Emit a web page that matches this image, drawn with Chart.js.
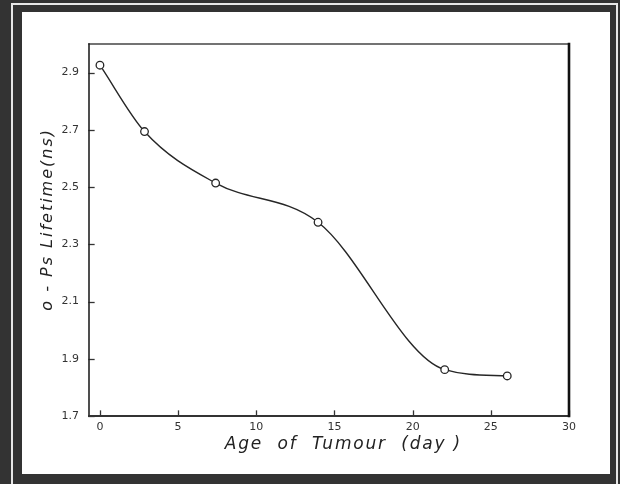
<!DOCTYPE html>
<html>
<head>
<meta charset="utf-8">
<script src="https://cdn.jsdelivr.net/npm/chart.js@4/dist/chart.umd.min.js"></script>
<style>
  html, body { margin: 0; padding: 0; }
  body { width: 620px; height: 484px; position: relative; overflow: hidden; background: #333; }
  #line { position: absolute; left: 11px; top: 3px; width: 607px; height: 500px; border: 2px solid #e8e8e8; box-sizing: border-box; }
  #paper { position: absolute; left: 22px; top: 12px; width: 588px; height: 462px; background: #fff; }
  #c { position: absolute; left: 0; top: 0; }
</style>
</head>
<body>
<div id="line"></div>
<div id="paper"></div>
<canvas id="c" width="620" height="484"></canvas>
<script>
// Data
const ageDays = [0, 2.85, 7.4, 13.95, 22.05, 26.05];
const lifetimeNs = [2.926, 2.694, 2.514, 2.377, 1.862, 1.840];
const xTickValues = [0, 5, 10, 15, 20, 25, 30];
const yTickValues = [1.7, 1.9, 2.1, 2.3, 2.5, 2.7, 2.9];
const xTitle = "    Age  of  Tumour  (day )";
const yTitle = "   o - Ps Lifetime(ns)";
const titleSpacing = { x: '1.8px', y: '2px' };

const points = ageDays.map((x, i) => ({ x: x, y: lifetimeNs[i] }));

// letter-spaced axis titles (the figure's lettering is widely spaced)
const spacedTitles = {
  id: 'spacedTitles',
  beforeDraw(chart) {
    ['x', 'y'].forEach(id => {
      const s = chart.scales[id];
      if (!s || s._spacedWrapped) return;
      const orig = s.drawTitle;
      s.drawTitle = function () {
        const ctx = this.ctx;
        ctx.save();
        ctx.letterSpacing = titleSpacing[id];
        orig.call(this);
        ctx.restore();
      };
      s._spacedWrapped = true;
    });
  }
};

const frameAndTicks = {
  id: 'frameAndTicks',
  afterDatasetsDraw(chart) {
    const { ctx, chartArea: a, scales } = chart;
    ctx.save();
    ctx.lineCap = 'square';
    ctx.strokeStyle = '#333';
    ctx.lineWidth = 1.3;
    scales.y.ticks.forEach(t => {
      const py = Math.round(scales.y.getPixelForValue(t.value)) + 0.5;
      ctx.beginPath(); ctx.moveTo(a.left, py); ctx.lineTo(a.left + 5, py); ctx.stroke();
    });
    scales.x.ticks.forEach(t => {
      const px = Math.round(scales.x.getPixelForValue(t.value)) + 0.5;
      ctx.beginPath(); ctx.moveTo(px, a.bottom); ctx.lineTo(px, a.bottom - 5); ctx.stroke();
    });
    ctx.strokeStyle = '#444';
    ctx.lineWidth = 1.5;
    ctx.beginPath(); ctx.moveTo(a.left, a.top); ctx.lineTo(a.right, a.top); ctx.stroke();
    ctx.strokeStyle = '#222';
    ctx.lineWidth = 1.6;
    ctx.beginPath(); ctx.moveTo(a.left, a.top); ctx.lineTo(a.left, a.bottom); ctx.stroke();
    ctx.lineWidth = 2;
    ctx.strokeStyle = '#333';
    ctx.beginPath(); ctx.moveTo(a.left, a.bottom); ctx.lineTo(a.right, a.bottom); ctx.stroke();
    ctx.strokeStyle = '#111';
    ctx.lineWidth = 2.6;
    ctx.beginPath(); ctx.moveTo(a.right, a.top); ctx.lineTo(a.right, a.bottom); ctx.stroke();
    ctx.restore();
  }
};

new Chart(document.getElementById('c'), {
  type: 'line',
  data: {
    datasets: [{
      data: points,
      borderColor: '#262626',
      borderWidth: 1.4,
      cubicInterpolationMode: 'monotone',
      pointRadius: 3.8,
      pointBorderWidth: 1.3,
      pointBorderColor: '#262626',
      pointBackgroundColor: '#ffffff',
      fill: false,
      clip: false
    }]
  },
  options: {
    responsive: false,
    animation: false,
    devicePixelRatio: 1,
    layout: { padding: { left: 22, right: 51, top: 44, bottom: 12 } },
    plugins: { legend: { display: false }, tooltip: { enabled: false } },
    scales: {
      x: {
        type: 'linear',
        min: -0.7,
        max: 30,
        afterBuildTicks: s => { s.ticks = xTickValues.map(v => ({ value: v })); },
        afterFit: s => { s.height = 56; },
        grid: { display: false, drawTicks: false },
        border: { display: false },
        ticks: {
          padding: 5,
          color: '#333',
          font: { family: 'DejaVu Sans', size: 11 },
          callback: v => String(v)
        },
        title: {
          display: true,
          text: xTitle,
          color: '#222',
          font: { family: 'DejaVu Sans', size: 17, style: 'italic' },
          padding: { top: 0, bottom: 17 }
        }
      },
      y: {
        type: 'linear',
        min: 1.7,
        max: 3.0,
        afterBuildTicks: s => { s.ticks = yTickValues.map(v => ({ value: v })); },
        afterFit: s => { s.width = 67; },
        grid: { display: false, drawTicks: false },
        border: { display: false },
        ticks: {
          padding: 10,
          color: '#333',
          font: { family: 'DejaVu Sans', size: 11 },
          callback: v => Number(v).toFixed(1)
        },
        title: {
          display: true,
          text: yTitle,
          color: '#222',
          font: { family: 'DejaVu Sans', size: 16, style: 'italic' },
          padding: { top: 16, bottom: 0 }
        }
      }
    }
  },
  plugins: [spacedTitles, frameAndTicks]
});
</script>
</body>
</html>
